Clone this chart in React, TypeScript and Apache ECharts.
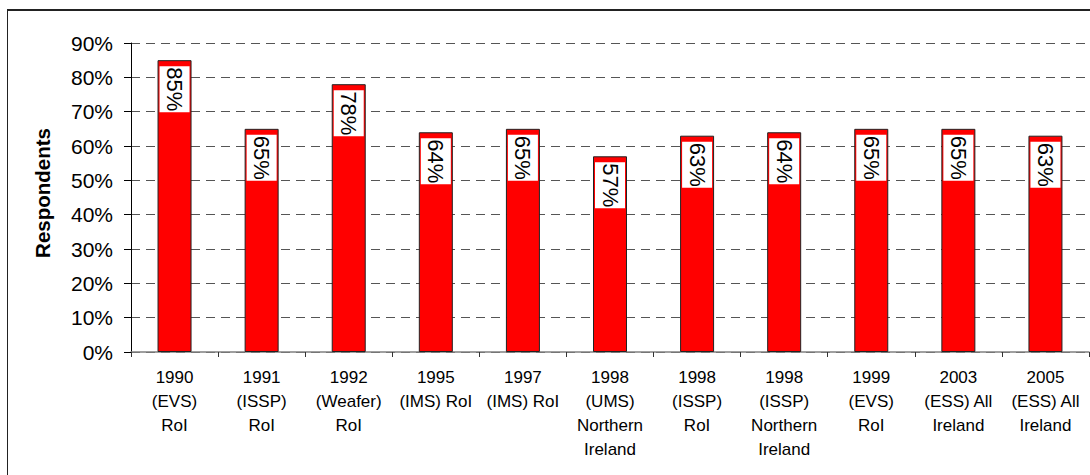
import React, { useEffect, useRef } from "react";
import * as echarts from "echarts";

const categories = [
  "1990\n(EVS)\nRoI",
  "1991\n(ISSP)\nRoI",
  "1992\n(Weafer)\nRoI",
  "1995\n(IMS) RoI",
  "1997\n(IMS) RoI",
  "1998\n(UMS)\nNorthern\nIreland",
  "1998\n(ISSP)\nRoI",
  "1998\n(ISSP)\nNorthern\nIreland",
  "1999\n(EVS)\nRoI",
  "2003\n(ESS) All\nIreland",
  "2005\n(ESS) All\nIreland",
];
const values = [85, 65, 78, 64, 65, 57, 63, 64, 65, 65, 63];
const yAxisTitle = "Respondents";

const FONT = "'Liberation Sans', Arial, sans-serif";

export default function App() {
  const ref = useRef<HTMLDivElement>(null);
  useEffect(() => {
    const chart = echarts.init(ref.current!, undefined, { renderer: "svg" });
    chart.setOption({
      animation: false,
      backgroundColor: "#fff",
      textStyle: { fontFamily: FONT },
      grid: { left: 131, right: 1, top: 43, bottom: 123, containLabel: false },
      xAxis: {
        type: "category",
        data: categories,
        axisLine: { lineStyle: { color: "#808080", width: 1.5 } },
        axisTick: { show: true, length: 5, lineStyle: { color: "#333" } },
        axisLabel: {
          interval: 0,
          margin: 13,
          fontSize: 17,
          lineHeight: 24,
          color: "#000",
          fontFamily: FONT,
        },
      },
      yAxis: {
        type: "value",
        min: 0,
        max: 90,
        interval: 10,
        axisLine: { show: true, lineStyle: { color: "#000", width: 1 } },
        axisTick: { show: true, length: 7, lineStyle: { color: "#000" } },
        axisLabel: {
          formatter: "{value}%",
          margin: 18,
          fontSize: 21,
          color: "#000",
          fontFamily: FONT,
        },
        splitLine: {
          show: true,
          lineStyle: { color: "#555", width: 1, type: [9, 6] },
        },
      },
      series: [
        {
          type: "bar",
          data: values,
          barWidth: 34,
          itemStyle: { color: "#ff0000", borderColor: "#222", borderWidth: 1 },
          label: {
            show: true,
            position: "insideTop",
            distance: 6,
            rotate: -90,
            align: "left",
            verticalAlign: "middle",
            formatter: "{c}%",
            fontSize: 22,
            lineHeight: 27,
            color: "#000",
            backgroundColor: "#fff",
            padding: [1, 1, 2, 1],
            fontFamily: FONT,
          },
        },
      ],
      graphic: [
        {
          type: "line",
          shape: { x1: 7, y1: 10, x2: 1090, y2: 10 },
          style: { stroke: "#222", lineWidth: 2 },
        },
        {
          type: "line",
          shape: { x1: 7.5, y1: 10, x2: 7.5, y2: 475 },
          style: { stroke: "#222", lineWidth: 1 },
        },
        {
          type: "text",
          x: 42,
          y: 193,
          rotation: Math.PI / 2,
          style: {
            text: yAxisTitle,
            fontSize: 20.5,
            fontWeight: "bold",
            fontFamily: FONT,
            fill: "#000",
            align: "center",
            verticalAlign: "middle",
          },
        },
      ],
    });
    return () => chart.dispose();
  }, []);
  return (
    <div
      ref={ref}
      style={{ position: "absolute", left: 0, top: 0, width: 1090, height: 475 }}
    />
  );
}
